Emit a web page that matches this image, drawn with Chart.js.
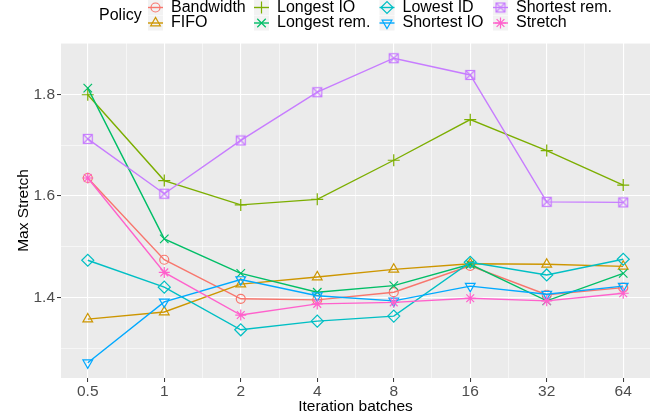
<!DOCTYPE html>
<html>
<head>
<meta charset="utf-8">
<script src="https://cdn.jsdelivr.net/npm/chart.js@4/dist/chart.umd.min.js"></script>
<style>
  body { margin:0; background:#fff; }
  #wrap { width:670px; height:418px; position:relative; }
</style>
</head>
<body>
<div id="wrap"><canvas id="c"></canvas></div>
<script>
const batches = [0.5, 1, 2, 4, 8, 16, 32, 64];
const policies = ["Bandwidth", "FIFO", "Longest IO", "Longest rem.", "Lowest ID", "Shortest IO", "Shortest rem.", "Stretch"];

const bandwidth   = [1.635, 1.474, 1.397, 1.395, 1.410, 1.462, 1.405, 1.419];
const fifo        = [1.357, 1.371, 1.426, 1.440, 1.455, 1.466, 1.465, 1.461];
const longestIO   = [1.799, 1.630, 1.582, 1.593, 1.670, 1.750, 1.689, 1.621];
const longestRem  = [1.812, 1.515, 1.447, 1.410, 1.423, 1.465, 1.393, 1.447];
const lowestID    = [1.473, 1.420, 1.336, 1.353, 1.363, 1.469, 1.444, 1.475];
const shortestIO  = [1.271, 1.391, 1.435, 1.403, 1.393, 1.422, 1.406, 1.422];
const shortestRem = [1.712, 1.604, 1.709, 1.804, 1.871, 1.838, 1.588, 1.587];
const stretch     = [1.635, 1.449, 1.365, 1.387, 1.390, 1.398, 1.393, 1.408];

const yMajor = [1.4, 1.6, 1.8];
const yMinor = [1.3, 1.5, 1.7, 1.9];

const series = [bandwidth, fifo, longestIO, longestRem, lowestID, shortestIO, shortestRem, stretch];
const colors = ["#F8766D", "#CD9600", "#7CAE00", "#00BE67", "#00BFC4", "#00A9FF", "#C77CFF", "#FF61CC"];

// square with an X inside (ggplot shape 7)
function squareCross(color) {
  const c = document.createElement("canvas");
  c.width = 12; c.height = 12;
  const g = c.getContext("2d");
  g.strokeStyle = color;
  g.lineWidth = 1.2;
  g.strokeRect(1.5, 1.5, 9, 9);
  g.beginPath();
  g.moveTo(1.5, 1.5); g.lineTo(10.5, 10.5);
  g.moveTo(10.5, 1.5); g.lineTo(1.5, 10.5);
  g.stroke();
  return c;
}

const marks = [
  { style: "circle", r: 4.5, rot: 0 },
  { style: "triangle", r: 5.6, rot: 0 },
  { style: "cross", r: 6, rot: 0 },
  { style: "crossRot", r: 6, rot: 0 },
  { style: "rectRot", r: 6, rot: 0 },
  { style: "triangle", r: 5.6, rot: 180 },
  { style: squareCross(colors[6]), r: 6, rot: 0 },
  { style: "star", r: 5.5, rot: 0 }
];

const allVals = series.flat();
const yLo = Math.min(...allVals), yHi = Math.max(...allVals);
const yPad = (yHi - yLo) * 0.05;
const xMin = batches[0] / Math.pow(2, 0.35);
const xMax = batches[batches.length - 1] * Math.pow(2, 0.35);

const isMajorX = v => batches.some(b => Math.abs(b - v) < 1e-9);
const isMajorY = v => yMajor.some(b => Math.abs(b - v) < 1e-9);

const xTicks = [];
batches.forEach((b, i) => {
  xTicks.push({ value: b });
  if (i < batches.length - 1) xTicks.push({ value: b * Math.SQRT2 });
});

const panelBg = {
  id: "panelBg",
  beforeDraw(chart) {
    const { ctx, chartArea: a } = chart;
    ctx.save();
    ctx.fillStyle = "#EBEBEB";
    ctx.fillRect(a.left, a.top, a.right - a.left, a.bottom - a.top);
    ctx.restore();
  }
};

const legendCols = [171, 277, 402.5, 516];
const legendRows = [7.5, 23];

const policyLegend = {
  id: "policyLegend",
  afterDraw(chart) {
    const ctx = chart.ctx;
    ctx.save();
    ctx.font = "16px 'Liberation Sans', Arial, sans-serif";
    ctx.textBaseline = "middle";
    ctx.fillStyle = "#000";
    ctx.fillText("Policy", 99, 16);
    policies.forEach((p, i) => {
      const tx = legendCols[Math.floor(i / 2)];
      const cy = legendRows[i % 2];
      const cx = tx - 15.5;
      ctx.fillStyle = "#F2F2F2";
      ctx.fillRect(cx - 7.5, cy - 7.5, 15, 15);
      ctx.strokeStyle = colors[i];
      ctx.lineWidth = 1.4;
      ctx.beginPath();
      ctx.moveTo(cx - 7.5, cy); ctx.lineTo(cx + 7.5, cy);
      ctx.stroke();
      ctx.fillStyle = "rgba(0,0,0,0)";
      ctx.lineWidth = 1.2;
      Chart.helpers.drawPoint(ctx, {
        pointStyle: marks[i].style, radius: marks[i].r, rotation: marks[i].rot, borderWidth: 1.2
      }, cx, cy);
      ctx.fillStyle = "#000";
      ctx.fillText(p, tx, cy);
    });
    ctx.restore();
  }
};

new Chart(document.getElementById("c"), {
  type: "line",
  data: {
    datasets: policies.map((p, i) => ({
      label: p,
      data: batches.map((b, j) => ({ x: b, y: series[i][j] })),
      borderColor: colors[i],
      borderWidth: 1.4,
      backgroundColor: "rgba(0,0,0,0)",
      pointStyle: marks[i].style,
      pointRadius: marks[i].r,
      pointRotation: marks[i].rot,
      pointBorderColor: colors[i],
      pointBackgroundColor: "rgba(0,0,0,0)",
      pointBorderWidth: 1.2,
      tension: 0,
      clip: false,
      order: policies.length - i
    }))
  },
  options: {
    responsive: true,
    maintainAspectRatio: false,
    animation: false,
    layout: { padding: { top: 43, right: 20, left: 0, bottom: 0 } },
    plugins: { legend: { display: false }, tooltip: { enabled: false } },
    scales: {
      x: {
        type: "logarithmic",
        min: xMin,
        max: xMax,
        afterBuildTicks: axis => { axis.ticks = xTicks.map(t => ({ value: t.value })); },
        afterFit: axis => { axis.height = 40; },
        border: { display: false },
        grid: {
          color: "#FFFFFF",
          lineWidth: c => isMajorX(c.tick.value) ? 1.1 : 0.55,
          tickColor: c => isMajorX(c.tick.value) ? "#333333" : "rgba(0,0,0,0)",
          tickLength: 4,
          tickWidth: 1
        },
        ticks: {
          autoSkip: false,
          maxRotation: 0,
          padding: 0,
          color: "#4D4D4D",
          font: { family: "'Liberation Sans', Arial, sans-serif", size: 15.5 },
          callback: v => isMajorX(v) ? String(v) : ""
        },
        title: {
          display: true,
          text: "Iteration batches",
          color: "#000",
          font: { family: "'Liberation Sans', Arial, sans-serif", size: 15.5 },
          padding: { top: 0, bottom: 1.5 }
        }
      },
      y: {
        min: yLo - yPad,
        max: yHi + yPad,
        afterBuildTicks: axis => {
          axis.ticks = yMajor.concat(yMinor)
            .filter(v => v >= axis.min && v <= axis.max)
            .sort((a, b) => a - b)
            .map(v => ({ value: v }));
        },
        afterFit: axis => { axis.width = 61; },
        border: { display: false },
        grid: {
          color: "#FFFFFF",
          lineWidth: c => isMajorY(c.tick.value) ? 1.1 : 0.55,
          tickColor: c => isMajorY(c.tick.value) ? "#333333" : "rgba(0,0,0,0)",
          tickLength: 4,
          tickWidth: 1
        },
        ticks: {
          autoSkip: false,
          padding: 2,
          color: "#4D4D4D",
          font: { family: "'Liberation Sans', Arial, sans-serif", size: 15.5 },
          callback: v => isMajorY(v) ? v.toFixed(1) : ""
        },
        title: {
          display: true,
          text: "Max Stretch",
          color: "#000",
          font: { family: "'Liberation Sans', Arial, sans-serif", size: 15.5 },
          padding: { top: 14.5, bottom: 0 }
        }
      }
    }
  },
  plugins: [panelBg, policyLegend]
});
</script>
</body>
</html>
